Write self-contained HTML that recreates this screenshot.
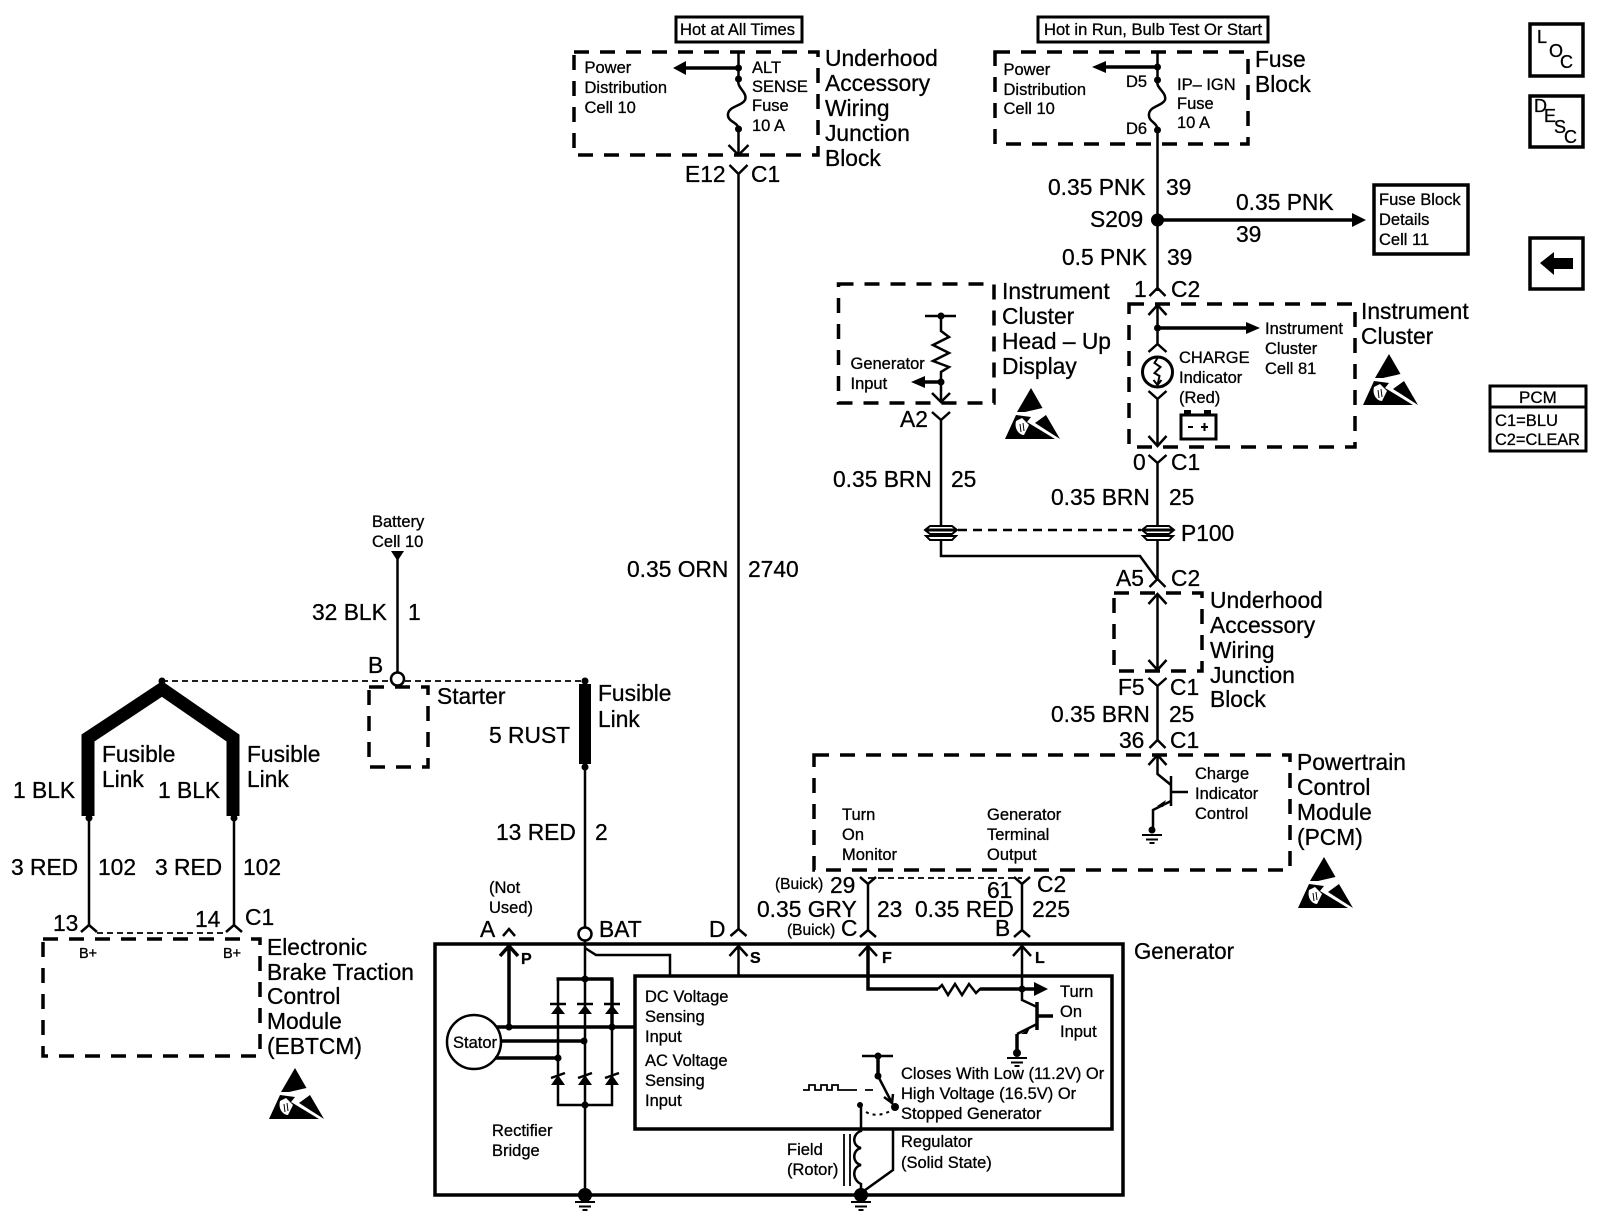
<!DOCTYPE html>
<html><head><meta charset="utf-8"><title>Charging System Schematic</title>
<style>
html,body{margin:0;padding:0;background:#fff}
svg{display:block}
text{font-family:"Liberation Sans",sans-serif;fill:#000;stroke:#000;stroke-width:.3}
.b{font-size:22.8px}
.s{font-size:16.5px}
.h{font-size:17px}
.o{font-size:18px}
.t{font-size:15.5px}
.p{font-size:16px;font-weight:bold}
.w{fill:none;stroke:#000;stroke-width:2.5}
.k{fill:none;stroke:#000;stroke-width:3.5}
.n{fill:none;stroke:#000;stroke-width:1.8}
.d{fill:none;stroke:#000;stroke-width:3.5;stroke-dasharray:15 11}
.f{fill:#000;stroke:none}
</style></head><body>
<svg xmlns="http://www.w3.org/2000/svg" width="1600" height="1220" viewBox="0 0 1600 1220">
<defs>
<g id="esd">
<polygon class="f" points="26,0 37.500,20 20,24 12,24"/>
<polygon class="f" points="41,27 55,51 30,35"/>
<polygon class="f" points="11,27 0,51 50,51 22,34 26,29"/>
<path d="M11,33 C9,41 14,47 19,47 L24,37 L17,30Z" fill="#fff"/>
<path d="M15,36 L16,44 M18,35 L19,43" stroke="#000" stroke-width="1" fill="none"/>
</g>
<g id="gnd"><path d="M-10,0H10M-6,4.500H6M-2.500,8H2.500" stroke="#000" stroke-width="2" fill="none"/></g>
<g id="p100">
<path d="M-11,-4 H11 L16,0 L11,4 H-11 L-16,0Z" fill="#fff" stroke="#000" stroke-width="2"/>
<path d="M-16,0H16" stroke="#000" stroke-width="3"/>
<path d="M-15,6 H15 L11,10 H-11Z" fill="#fff" stroke="#000" stroke-width="2"/>
</g>
</defs>

<!-- top tags -->
<rect x="676" y="17" width="126" height="25" fill="none" stroke="#000" stroke-width="3"/>
<text class="h" x="680" y="35" textLength="115" lengthAdjust="spacingAndGlyphs">Hot at All Times</text>
<rect x="1038" y="17" width="230" height="25" fill="none" stroke="#000" stroke-width="3"/>
<text class="h" x="1044" y="35" textLength="218" lengthAdjust="spacingAndGlyphs">Hot in Run, Bulb Test Or Start</text>

<!-- Underhood top -->
<rect class="d" x="574" y="52" width="244" height="103"/>
<path class="w" d="M738.500 52V79M738.500 129V155"/>
<path class="w" d="M728.500 145L738.500 155L748.500 145"/>
<path class="k" d="M738 68H684"/><polygon class="f" points="673,68 686,61 686,75"/>
<circle class="f" cx="738.500" cy="68" r="3.500"/><circle class="f" cx="738.500" cy="79" r="3.500"/><circle class="f" cx="738.500" cy="129" r="3.500"/>
<path d="M738.500 79C736 88 748 92 745 100C742 106 729 106 728 114C727 122 738.500 122 738.500 129" fill="none" stroke="#000" stroke-width="2.500"/>
<text class="s" x="584.500" y="73">Power</text><text class="s" x="584.500" y="93">Distribution</text><text class="s" x="584.500" y="113">Cell 10</text>
<text class="s" x="752" y="73">ALT</text><text class="s" x="752" y="92">SENSE</text><text class="s" x="752" y="111">Fuse</text><text class="s" x="752" y="131">10 A</text>
<text class="b" x="825" y="66">Underhood</text><text class="b" x="825" y="91">Accessory</text><text class="b" x="825" y="116">Wiring</text><text class="b" x="825" y="141">Junction</text><text class="b" x="825" y="166">Block</text>
<text class="b" x="685" y="182">E12</text><text class="b" x="751" y="182">C1</text>
<path class="w" d="M729.500 165L738.500 174L747.500 165M738.500 174V929"/>
<text class="b" x="627" y="577">0.35 ORN</text><text class="b" x="748" y="577">2740</text>

<!-- Fuse block -->
<rect class="d" x="995" y="52" width="253" height="92"/>
<path class="w" d="M1157.500 52V80M1157.500 130V291"/>
<path class="k" d="M1157 67H1104"/><polygon class="f" points="1092,67 1106,61 1106,73"/>
<circle class="f" cx="1157.500" cy="67" r="3.500"/><circle class="f" cx="1157.500" cy="80" r="3.500"/><circle class="f" cx="1157.500" cy="130" r="3.500"/>
<path d="M1157.500 80C1155 88 1167 92 1165 100C1162 106 1150 106 1149 114C1148 122 1157.500 122 1157.500 130" fill="none" stroke="#000" stroke-width="2.500"/>
<text class="s" x="1003.500" y="75">Power</text><text class="s" x="1003.500" y="95">Distribution</text><text class="s" x="1003.500" y="114">Cell 10</text>
<text class="s" x="1126" y="87">D5</text><text class="s" x="1126" y="134">D6</text>
<text class="s" x="1177" y="90">IP– IGN</text><text class="s" x="1177" y="109">Fuse</text><text class="s" x="1177" y="128">10 A</text>
<text class="b" x="1255" y="67">Fuse</text><text class="b" x="1255" y="92">Block</text>
<text class="b" x="1048" y="195">0.35 PNK</text><text class="b" x="1166" y="195">39</text>
<text class="b" x="1090" y="227">S209</text>
<circle class="f" cx="1157.500" cy="220" r="6.500"/>
<path class="k" d="M1157 220H1354"/><polygon class="f" points="1366,220 1352,213 1352,227"/>
<text class="b" x="1236" y="210">0.35 PNK</text><text class="b" x="1236" y="242">39</text>
<rect x="1374" y="185" width="94" height="69" fill="none" stroke="#000" stroke-width="3.500"/>
<text class="s" x="1379" y="205">Fuse Block</text><text class="s" x="1379" y="225">Details</text><text class="s" x="1379" y="245">Cell 11</text>
<text class="b" x="1062" y="265">0.5 PNK</text><text class="b" x="1167" y="265">39</text>
<text class="b" x="1134" y="297">1</text><text class="b" x="1171" y="297">C2</text>
<path class="w" d="M1149.500 296L1157.500 288L1165.500 296"/>

<!-- Instrument cluster -->
<rect class="d" x="1129" y="304" width="226" height="143"/>
<path class="w" d="M1157.500 305V344M1148.500 315L1157.500 305L1166.500 315"/>
<circle class="f" cx="1157.500" cy="328" r="3.500"/>
<path class="k" d="M1157 328H1248"/><polygon class="f" points="1260,328 1246,322 1246,334"/>
<path class="w" d="M1148.500 352L1157.500 344L1166.500 352"/>
<circle cx="1157.500" cy="372" r="15" fill="#fff" stroke="#000" stroke-width="3"/>
<path d="M1157.500 358L1154.500 363L1160.500 367L1154.500 373L1159.500 376L1157.500 385M1153.500 380L1157.500 385L1161.500 380" fill="none" stroke="#000" stroke-width="2"/>
<path class="w" d="M1148.500 391L1157.500 399L1166.500 391M1157.500 399V446M1148.500 436L1157.500 446L1166.500 436"/>
<text class="s" x="1179" y="363">CHARGE</text><text class="s" x="1179" y="383">Indicator</text><text class="s" x="1179" y="403">(Red)</text>
<text class="s" x="1265" y="334">Instrument</text><text class="s" x="1265" y="354">Cluster</text><text class="s" x="1265" y="374">Cell 81</text>
<rect x="1181" y="415" width="35" height="24" fill="none" stroke="#000" stroke-width="3"/>
<rect class="f" x="1184" y="410" width="7" height="5"/><rect class="f" x="1204" y="410" width="7" height="5"/>
<path d="M1188 427H1193M1201 427H1208M1204.500 423V431" stroke="#000" stroke-width="2"/>
<text class="b" x="1361" y="319">Instrument</text><text class="b" x="1361" y="344">Cluster</text>
<use href="#esd" x="1363" y="354"/>

<!-- HUD -->
<rect class="d" x="838.500" y="284" width="155.500" height="119"/>
<text class="b" x="1002" y="299">Instrument</text><text class="b" x="1002" y="324">Cluster</text><text class="b" x="1002" y="349">Head – Up</text><text class="b" x="1002" y="374">Display</text>
<path class="w" d="M925 316H956M941 316V331L949 337L933 345L949 353L933 361L949 367L941 372V402M932 393L941 402L950 393"/>
<circle class="f" cx="941" cy="316" r="3.500"/><circle class="f" cx="941" cy="382" r="3.500"/>
<path class="k" d="M941 382H922"/><polygon class="f" points="911,382 925,376 925,388"/>
<text class="s" x="850.500" y="369">Generator</text><text class="s" x="850.500" y="389">Input</text>
<text class="b" x="900" y="427">A2</text>
<path class="w" d="M932 412L941 420L950 412M941 420V525"/>
<use href="#esd" x="1005" y="388"/>
<text class="b" x="833" y="487">0.35 BRN</text><text class="b" x="951" y="487">25</text>
<text class="b" x="1133" y="470">0</text><text class="b" x="1171" y="470">C1</text>
<path class="w" d="M1148.500 455L1157.500 463L1166.500 455M1157.500 463V525"/>
<text class="b" x="1051" y="505">0.35 BRN</text><text class="b" x="1169" y="505">25</text>
<use href="#p100" x="941" y="530"/><use href="#p100" x="1158" y="530"/>
<path d="M958 530H1141" fill="none" stroke="#000" stroke-width="2.500" stroke-dasharray="9 6"/>
<text class="b" x="1181" y="541">P100</text>
<path class="w" d="M941 540V556H1140L1157.500 580"/>
<path class="w" d="M1157.500 540V580M1149.500 587L1157.500 579L1165.500 587"/>
<text class="b" x="1116" y="586">A5</text><text class="b" x="1171" y="586">C2</text>

<!-- Underhood 2 -->
<rect class="d" x="1114" y="593" width="88" height="78"/>
<path class="w" d="M1157.500 594V670M1148.500 604L1157.500 594L1166.500 604M1148.500 660L1157.500 670L1166.500 660"/>
<text class="b" x="1210" y="608">Underhood</text><text class="b" x="1210" y="633">Accessory</text><text class="b" x="1210" y="658">Wiring</text><text class="b" x="1210" y="683">Junction</text><text class="b" x="1210" y="707">Block</text>
<text class="b" x="1118" y="695">F5</text><text class="b" x="1170" y="695">C1</text>
<path class="w" d="M1148.500 678L1157.500 686L1166.500 678M1157.500 686V740M1149.500 748L1157.500 740L1165.500 748"/>
<text class="b" x="1051" y="722">0.35 BRN</text><text class="b" x="1169" y="722">25</text>
<text class="b" x="1119" y="748">36</text><text class="b" x="1170" y="748">C1</text>

<!-- PCM -->
<rect class="d" x="814" y="755" width="476" height="115"/>
<path class="w" d="M1148.500 765L1157.500 755L1166.500 765M1157.500 756V774L1171 785M1171 776V806M1171 792H1188M1171 801L1153 810V830"/>
<circle class="f" cx="1152" cy="830" r="3.500"/><use href="#gnd" x="1152" y="835"/>
<polygon class="f" points="1157,806 1166,800 1163,807"/>
<text class="s" x="1195" y="779">Charge</text><text class="s" x="1195" y="799">Indicator</text><text class="s" x="1195" y="819">Control</text>
<text class="s" x="842" y="820">Turn</text><text class="s" x="842" y="840">On</text><text class="s" x="842" y="860">Monitor</text>
<text class="s" x="987" y="820">Generator</text><text class="s" x="987" y="840">Terminal</text><text class="s" x="987" y="860">Output</text>
<text class="b" x="1297" y="770">Powertrain</text><text class="b" x="1297" y="795">Control</text><text class="b" x="1297" y="820">Module</text><text class="b" x="1297" y="845">(PCM)</text>
<use href="#esd" x="1298" y="857"/>

<path class="n" d="M868 878H1022" stroke-dasharray="6 4"/>
<path class="w" d="M860 877L868 884L876 877M868 884V930M860 937L868 930L876 937"/>
<path class="w" d="M1014 877L1022 884L1030 877M1022 884V930M1014 937L1022 930L1030 937"/>
<text class="t" x="775" y="889">(Buick)</text><text class="b" x="830" y="893">29</text>
<text class="b" x="757" y="917">0.35 GRY</text><text class="t" x="787" y="935">(Buick)</text><text class="b" x="841" y="936">C</text>
<text class="b" x="877" y="917">23</text><text class="b" x="915" y="917">0.35 RED</text>
<text class="b" x="987" y="898">61</text><text class="b" x="1037" y="892">C2</text>
<text class="b" x="995" y="936">B</text><text class="b" x="1032" y="917">225</text>

<!-- Generator -->
<rect x="435" y="944" width="688" height="251" fill="none" stroke="#000" stroke-width="3.500"/>
<rect x="635" y="976" width="477" height="153" fill="none" stroke="#000" stroke-width="3.500"/>
<text class="b" x="1134" y="959" textLength="100" lengthAdjust="spacingAndGlyphs">Generator</text>
<text class="b" x="480" y="937">A</text><text class="b" x="599" y="937">BAT</text><text class="b" x="709" y="937">D</text>
<path class="w" d="M503 936L509 929L515 936M730.500 936L738.500 929L746.500 936"/>
<text class="s" x="489" y="893">(Not</text><text class="s" x="489" y="913">Used)</text>
<text class="p" x="521" y="964">P</text><text class="p" x="750" y="963">S</text><text class="p" x="882" y="963">F</text><text class="p" x="1035" y="963">L</text>

<!-- BAT + rectifier -->
<circle cx="585" cy="934" r="6.500" fill="#fff" stroke="#000" stroke-width="2.500"/>
<path class="w" d="M585 766V927M585 941V1195M585 948L596 955H670V976"/>
<path class="w" d="M558 979V1105H612V1027"/>
<path class="k" d="M556.500 979H613.500M612 979V1027"/>
<g class="f">
<circle cx="585" cy="979" r="3.500"/><circle cx="585" cy="1105" r="3.500"/>
<circle cx="612" cy="1027" r="3.500"/><circle cx="509" cy="1027" r="3.500"/><circle cx="584" cy="1041" r="3.500"/><circle cx="558" cy="1058" r="3.500"/>
<polygon points="558,1005 551,1014 565,1014"/><polygon points="585,1005 578,1014 592,1014"/><polygon points="612,1005 605,1014 619,1014"/>
<polygon points="558,1075 551,1085 565,1085"/><polygon points="585,1075 578,1085 592,1085"/><polygon points="612,1075 605,1085 619,1085"/>
</g>
<path class="w" d="M550 1004H566M577 1004H593M604 1004H620"/>
<path class="w" d="M551 1078L565 1073M578 1078L592 1073M605 1078L619 1073"/>
<circle cx="474" cy="1042" r="27" fill="#fff" stroke="#000" stroke-width="2.500"/>
<text class="s" x="453" y="1048">Stator</text>
<path class="k" d="M497 1027H635M502 1041H584M495 1058H558"/>
<path class="k" d="M509 1027V946M500 956L509 946L518 956"/>
<path class="w" d="M738.500 976V946M729.500 956L738.500 946L747.500 956"/>
<text class="s" x="492" y="1136">Rectifier</text><text class="s" x="492" y="1156">Bridge</text>
<text class="s" x="645" y="1002">DC Voltage</text><text class="s" x="645" y="1022">Sensing</text><text class="s" x="645" y="1042">Input</text>
<text class="s" x="645" y="1066">AC Voltage</text><text class="s" x="645" y="1086">Sensing</text><text class="s" x="645" y="1106">Input</text>
<circle class="f" cx="585" cy="1195" r="7"/><use href="#gnd" x="585" y="1202"/>

<!-- F / L -->
<path class="k" d="M868 946V989H938"/>
<path class="w" d="M859 956L868 946L877 956"/>
<path class="w" d="M938 989L942 985L948 995L955 984L962 995L969 984L976 993L980 989H1036"/>
<path class="k" d="M980 989H1036"/><polygon class="f" points="1048,989 1034,982 1034,996"/>
<path class="w" d="M1022 946V1000L1037 1007M1013 956L1022 946L1031 956"/>
<circle class="f" cx="1022" cy="989" r="3.500"/>
<path class="k" d="M1037 1002V1030M1037 1016H1053"/>
<path class="w" d="M1037 1024L1017 1034"/><path class="k" d="M1017 1034V1053"/>
<polygon class="f" points="1021,1034 1030,1028 1027,1034"/>
<circle class="f" cx="1017" cy="1053" r="4"/><use href="#gnd" x="1017" y="1058"/>
<text class="s" x="1060" y="997">Turn</text><text class="s" x="1060" y="1017">On</text><text class="s" x="1060" y="1037">Input</text>

<!-- switch -->
<path class="w" d="M862 1056H893"/><path class="k" d="M878 1056V1076"/>
<path class="w" d="M878 1076L892 1103M884 1097L892 1103L893 1094"/>
<circle class="f" cx="878" cy="1056" r="3.500"/><circle class="f" cx="878" cy="1076" r="3.500"/><circle class="f" cx="895" cy="1107" r="4"/><circle class="f" cx="860" cy="1105" r="3"/>
<path d="M803 1090H809V1085H815V1090H821V1085H827V1090H832V1085H838V1090H857M865 1090H873" fill="none" stroke="#000" stroke-width="1.800"/>
<path d="M866 1112C875 1117 885 1115 895 1108" fill="none" stroke="#000" stroke-width="2" stroke-dasharray="3 4"/>
<text class="s" x="901" y="1079">Closes With Low (11.2V) Or</text><text class="s" x="901" y="1099">High Voltage (16.5V) Or</text><text class="s" x="901" y="1119">Stopped Generator</text>

<!-- field -->
<path class="w" d="M861 1105V1131C852 1134 852 1146 861 1148C852 1150 852 1163 861 1165C852 1167 852 1180 861 1184V1195"/>
<path class="n" d="M844 1134V1186M850 1134V1186"/>
<path class="w" d="M893 1129V1170L861 1193"/>
<circle class="f" cx="861" cy="1195" r="7"/><use href="#gnd" x="861" y="1202"/>
<text class="s" x="787" y="1155">Field</text><text class="s" x="787" y="1175">(Rotor)</text>
<text class="s" x="901" y="1147">Regulator</text><text class="s" x="901" y="1168">(Solid State)</text>

<!-- Starter -->
<text class="s" x="372" y="527">Battery</text><text class="s" x="372" y="547">Cell 10</text>
<polygon class="f" points="391,551 404,551 397.500,561"/>
<path class="w" d="M397.500 555V672"/>
<text class="b" x="312" y="620">32 BLK</text><text class="b" x="408" y="620">1</text>
<text class="b" x="368" y="673">B</text>
<circle cx="397.500" cy="679" r="6.500" fill="#fff" stroke="#000" stroke-width="2.500"/>
<path class="n" d="M162 681H390M405 681H585" stroke-dasharray="6 4"/>
<rect class="d" x="369" y="687" width="59" height="80"/>
<text class="b" x="437" y="704">Starter</text>

<!-- Fusible right -->
<circle class="f" cx="585" cy="681" r="3.500"/><circle class="f" cx="585" cy="767" r="3.500"/>
<rect class="f" x="579" y="684" width="12" height="80"/>
<text class="b" x="598" y="701">Fusible</text><text class="b" x="598" y="727">Link</text>
<text class="b" x="489" y="743">5 RUST</text>
<text class="b" x="496" y="840">13 RED</text><text class="b" x="595" y="840">2</text>

<!-- Fusible left -->
<circle class="f" cx="162" cy="681" r="3.500"/>
<path d="M88 816V738L162 689L233 738V816" fill="none" stroke="#000" stroke-width="13"/>
<circle class="f" cx="89" cy="818" r="3.500"/><circle class="f" cx="234" cy="818" r="3.500"/>
<path class="w" d="M89 818V926M234 818V926"/>
<path class="w" d="M81 932L89 925L97 932M226 932L234 925L242 932"/>
<path class="n" d="M97 933H226" stroke-dasharray="6 4"/>
<text class="b" x="102" y="762">Fusible</text><text class="b" x="102" y="787">Link</text>
<text class="b" x="247" y="762">Fusible</text><text class="b" x="247" y="787">Link</text>
<text class="b" x="13" y="798">1 BLK</text><text class="b" x="158" y="798">1 BLK</text>
<text class="b" x="11" y="875">3 RED</text><text class="b" x="98" y="875">102</text>
<text class="b" x="155" y="875">3 RED</text><text class="b" x="243" y="875">102</text>
<text class="b" x="53" y="931">13</text><text class="b" x="195" y="927">14</text><text class="b" x="245" y="925">C1</text>
<rect class="d" x="43" y="939" width="217" height="117"/>
<text x="79" y="958" style="font-size:14.5px">B+</text><text x="223" y="958" style="font-size:14.5px">B+</text>
<text class="b" x="267" y="955">Electronic</text><text class="b" x="267" y="980">Brake Traction</text><text class="b" x="267" y="1004">Control</text><text class="b" x="267" y="1029">Module</text><text class="b" x="267" y="1054">(EBTCM)</text>
<use href="#esd" x="269" y="1068"/>

<!-- Right icons -->
<rect x="1530" y="24" width="53" height="52" fill="none" stroke="#000" stroke-width="3.500"/>
<text class="o" x="1537" y="43">L</text><text class="o" x="1549" y="57">O</text><text class="o" x="1560" y="68">C</text>
<rect x="1530" y="96" width="53" height="51" fill="none" stroke="#000" stroke-width="3.500"/>
<text class="o" x="1534" y="112">D</text><text class="o" x="1544" y="122">E</text><text class="o" x="1554" y="133">S</text><text class="o" x="1564" y="143">C</text>
<rect x="1530" y="238" width="53" height="51" fill="none" stroke="#000" stroke-width="3.500"/>
<polygon class="f" points="1540,263 1554,252 1554,258 1573,258 1573,269 1554,269 1554,275"/>
<rect x="1490" y="386" width="96" height="65" fill="none" stroke="#000" stroke-width="3"/>
<path d="M1490 407H1586" stroke="#000" stroke-width="3"/>
<text class="h" x="1519" y="403">PCM</text><text class="h" x="1495" y="426" textLength="63" lengthAdjust="spacingAndGlyphs">C1=BLU</text><text class="h" x="1495" y="445" textLength="85" lengthAdjust="spacingAndGlyphs">C2=CLEAR</text>
</svg>
</body></html>
